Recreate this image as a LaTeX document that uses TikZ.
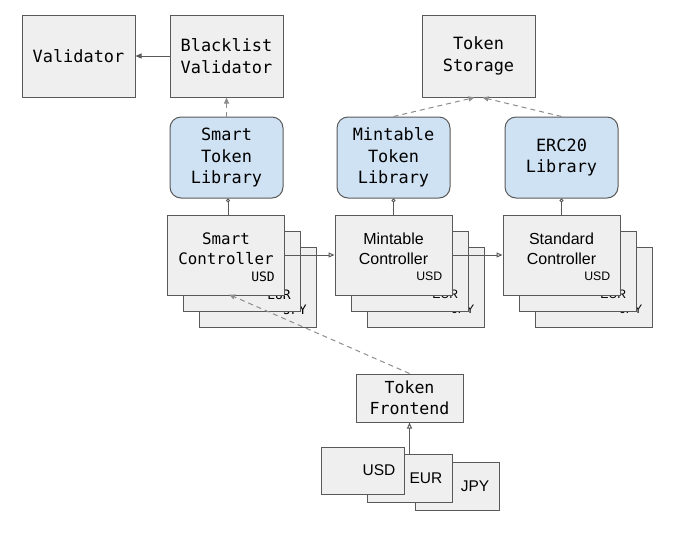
\documentclass[tikz,border=0pt]{standalone}
\usepackage{fontspec}
\setmonofont{DejaVu Sans Mono}
\setsansfont{Liberation Sans}
\usetikzlibrary{arrows.meta}
\definecolor{boxfill}{HTML}{EFEFEF}
\definecolor{libfill}{HTML}{CFE2F3}
\definecolor{edge}{HTML}{595959}
\definecolor{dash}{HTML}{8C8C8C}
\tikzset{
  gbox/.style={draw=edge, line width=1pt, fill=boxfill, inner sep=0pt, align=center,
    font=\fontsize{16.9}{21.7}\selectfont\ttfamily},
  lbox/.style={gbox, fill=libfill, rounded corners=11pt},
  cbox/.style={draw=edge, line width=1pt, fill=boxfill, inner sep=0pt, minimum width=117pt, minimum height=80pt},
  ttlmono/.style={inner sep=0pt, align=center, font=\fontsize{15.8}{20}\selectfont\ttfamily},
  ttlsans/.style={inner sep=0pt, align=center, font=\fontsize{16}{20}\selectfont\sffamily},
  curmono/.style={inner sep=0pt, anchor=east, font=\fontsize{13}{15}\selectfont\ttfamily},
  cursans/.style={inner sep=0pt, anchor=east, font=\fontsize{12.3}{15}\selectfont\sffamily},
  curbig/.style={inner sep=0pt, anchor=east, font=\fontsize{15.5}{18}\selectfont\sffamily},
  conn/.style={draw=edge, line width=1pt},
  dconn/.style={draw=dash, line width=1pt, dash pattern=on 5pt off 4pt},
  tipT/.style={-{Triangle[open, length=6pt, width=5pt]}},
  tipF/.style={-{Triangle[length=6pt, width=5pt]}},
  tipC/.style={-{Circle[open, length=4pt, width=4pt]}},
}
\begin{document}
\begin{tikzpicture}[x=1pt, y=-1pt]
\useasboundingbox (0,0) rectangle (676,539);

% top row
\node[gbox, minimum width=113pt, minimum height=82pt] (val) at (78.5,56) {Validator};
\node[gbox, minimum width=113pt, minimum height=82pt] (blv) at (226.5,56) {Blacklist\\Validator};
\node[gbox, minimum width=113pt, minimum height=82pt] (tst) at (478.5,56) {Token\\Storage};

% libraries
\node[lbox, minimum width=113pt, minimum height=81pt] (stl) at (226.5,157.5) {Smart\\Token\\Library};
\node[lbox, minimum width=113pt, minimum height=81pt] (mtl) at (393.5,157.5) {Mintable\\Token\\Library};
\node[lbox, minimum width=113pt, minimum height=81pt] (erc) at (561.5,157.5) {ERC20\\Library};

% Smart controller stack
\node[cbox] (sc3) at (258,287) {};
\node[curmono] (sc3u) at ([xshift=-10pt, yshift=18pt]sc3.south east) {JPY};
\node[cbox] (sc2) at (242,271) {};
\node[curmono] (sc2u) at ([xshift=-10pt, yshift=17pt]sc2.south east) {EUR};
\node[cbox] (sc) at (226,255) {};
\node[ttlmono] (sct) at ([yshift=6.5pt]sc.center) {Smart\\Controller};
\node[curmono] (scu) at ([xshift=-10pt, yshift=19pt]sc.south east) {USD};

% Mintable controller stack
\node[cbox] (mc3) at (425.5,287) {};
\node[cursans] (mc3u) at ([xshift=-10pt, yshift=18pt]mc3.south east) {JPY};
\node[cbox] (mc2) at (409.5,271) {};
\node[cursans] (mc2u) at ([xshift=-10pt, yshift=17pt]mc2.south east) {EUR};
\node[cbox] (mc) at (393.5,255) {};
\node[ttlsans] (mct) at ([yshift=6.5pt]mc.center) {Mintable\\Controller};
\node[cursans] (mcu) at ([xshift=-10pt, yshift=19pt]mc.south east) {USD};

% Standard controller stack
\node[cbox] (sd3) at (593.5,287) {};
\node[cursans] (sd3u) at ([xshift=-10pt, yshift=18pt]sd3.south east) {JPY};
\node[cbox] (sd2) at (577.5,271) {};
\node[cursans] (sd2u) at ([xshift=-10pt, yshift=17pt]sd2.south east) {EUR};
\node[cbox] (sd) at (561.5,255) {};
\node[ttlsans] (sdt) at ([yshift=6.5pt]sd.center) {Standard\\Controller};
\node[cursans] (sdu) at ([xshift=-10pt, yshift=19pt]sd.south east) {USD};

% Token frontend
\node[gbox, minimum width=107pt, minimum height=48pt, font=\fontsize{16.6}{20.7}\selectfont\ttfamily] (tfe) at (409.5,398) {Token\\Frontend};

% currency boxes
\node[cbox, minimum width=84pt, minimum height=48pt] (jpy) at (457,486) {};
\node[curbig] (jpyt) at ([xshift=-10pt]jpy.east) {JPY};
\node[cbox, minimum width=85pt, minimum height=48pt] (eur) at (409.5,478) {};
\node[curbig] (eurt) at ([xshift=-10pt]eur.east) {EUR};
\node[cbox, minimum width=83pt, minimum height=47pt] (usd) at (362.5,470.5) {};
\node[curbig] (usdt) at ([xshift=-9pt]usd.east) {USD};

% connectors
\draw[conn, tipF] (blv.west) -- (val.east);
\draw[dconn, tipF] (stl.north) -- (blv.south);
\draw[dconn, tipF] (mtl.north) -- ([xshift=-4pt]tst.south);
\draw[dconn, tipF] (erc.north) -- ([xshift=4pt]tst.south);

\draw[conn, tipC] ([xshift=2pt]sc.north) -- ([xshift=1.5pt]stl.south);
\draw[conn, tipC] (mc.north) -- (mtl.south);
\draw[conn, tipC] (sd.north) -- (erc.south);

\draw[conn, tipT] (sc.east) -- (mc.west);
\draw[conn, tipT] (mc.east) -- (sd.west);

\coordinate (scb) at ([xshift=3pt, yshift=1pt]sc.south);
\draw[dconn, tipF] (tfe.north) -- (scb);

\coordinate (eurtop) at (eur.north);
\draw[conn, tipT] (eurtop) -- (tfe.south);
\end{tikzpicture}
\end{document}
